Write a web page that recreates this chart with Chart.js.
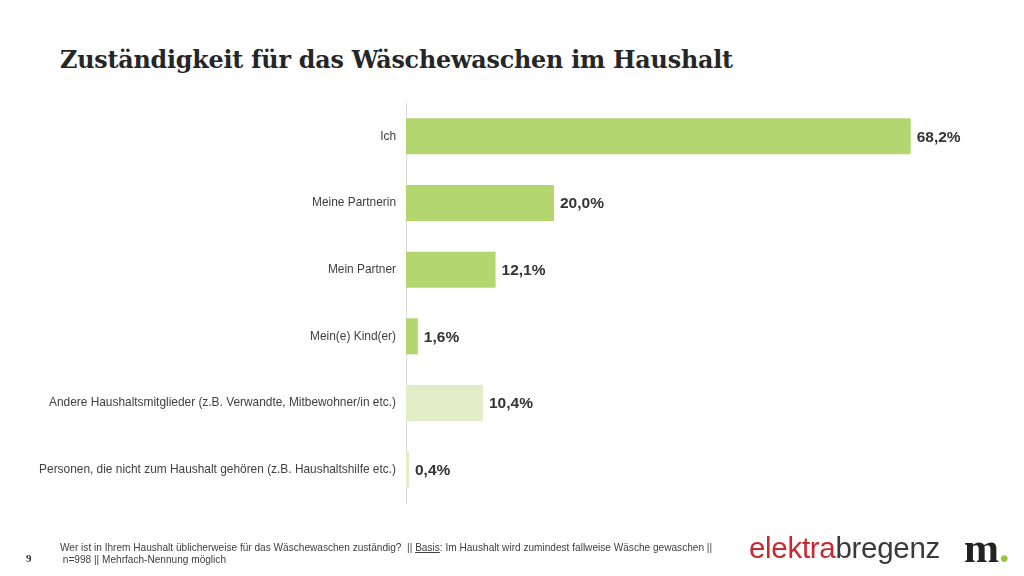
<!DOCTYPE html>
<html><head><meta charset="utf-8">
<script src="https://cdn.jsdelivr.net/npm/chart.js@4.4.0/dist/chart.umd.min.js"></script>
<style>
html,body{margin:0;padding:0;background:#fff;width:1024px;height:576px;overflow:hidden;position:relative;font-family:"Liberation Sans",Arial,sans-serif}
#title{position:absolute;left:60px;top:46px;font-family:"DejaVu Serif",Georgia,serif;font-weight:bold;font-size:23.8px;color:#262626;letter-spacing:-0.2px;white-space:nowrap}
#wrap{position:absolute;left:0;top:0;width:1024px;height:576px}
#pg{position:absolute;left:26px;top:552px;font-family:"Liberation Serif",serif;font-weight:bold;font-size:11px;color:#333}
#foot{position:absolute;left:60px;top:542px;font-size:10.1px;line-height:11.5px;color:#404040;width:720px;white-space:nowrap}
#logo{position:absolute;left:749px;top:531px;font-size:29.5px;letter-spacing:-0.3px;white-space:nowrap}
#logo .a{color:#c8282f}#logo .b{color:#3a3a3a}
#m{position:absolute;left:964px;top:524px;font-family:"Liberation Serif",serif;font-weight:bold;font-size:42px;color:#222}
#m span{color:#9cc43c}
</style></head><body>
<div id="title">Zuständigkeit für das Wäschewaschen im Haushalt</div>
<div id="wrap"><canvas id="c" width="1024" height="576"></canvas></div>
<div id="pg">9</div>
<div id="foot">Wer ist in Ihrem Haushalt üblicherweise für das Wäschewaschen zuständig?&nbsp; || <u>Basis</u>: Im Haushalt wird zumindest fallweise Wäsche gewaschen ||<br>&nbsp;n=998 || Mehrfach-Nennung möglich</div>
<div id="logo"><span class="a">elektra</span><span class="b">bregenz</span></div>
<div id="m">m<span>.</span></div>
<script>
const categories = ["Ich","Meine Partnerin","Mein Partner","Mein(e) Kind(er)","Andere Haushaltsmitglieder (z.B. Verwandte, Mitbewohner/in etc.)","Personen, die nicht zum Haushalt gehören (z.B. Haushaltshilfe etc.)"];
const values = [68.2, 20.0, 12.1, 1.6, 10.4, 0.4];
const valueLabels = ["68,2%","20,0%","12,1%","1,6%","10,4%","0,4%"];
const barColors = ["#b4d66f","#b4d66f","#b4d66f","#b4d66f","#e1eec8","#e1eec8"];

const labelPlugin = {
  id:'vlabels',
  afterDatasetsDraw(chart){
    const ctx = chart.ctx;
    const meta = chart.getDatasetMeta(0);
    ctx.save();
    ctx.font = 'bold 15.5px "Liberation Sans", Arial, sans-serif';
    ctx.fillStyle = '#333';
    ctx.textBaseline = 'middle';
    ctx.textAlign = 'left';
    meta.data.forEach((bar,i)=>{
      ctx.fillText(valueLabels[i], bar.x + 6, bar.y + 1);
    });
    ctx.restore();
  }
};

new Chart(document.getElementById('c'),{
  type:'bar',
  data:{labels:categories,datasets:[{data:values,backgroundColor:barColors,borderWidth:0,categoryPercentage:1,barPercentage:0.54}]},
  options:{
    indexAxis:'y',responsive:false,animation:false,
    layout:{padding:{top:103,bottom:73,right:26,left:0}},
    plugins:{legend:{display:false},tooltip:{enabled:false}},
    scales:{
      x:{display:false,min:0,max:80,grid:{display:false}},
      y:{
        grid:{display:false,drawTicks:false},
        border:{display:true,color:'#d9d9d9',width:1},
        ticks:{color:'#404040',padding:10,font:{family:'"Liberation Sans", Arial, sans-serif',size:11.9}},
        afterFit(s){s.width=406;}
      }
    }
  },
  plugins:[labelPlugin]
});
</script>
</body></html>
